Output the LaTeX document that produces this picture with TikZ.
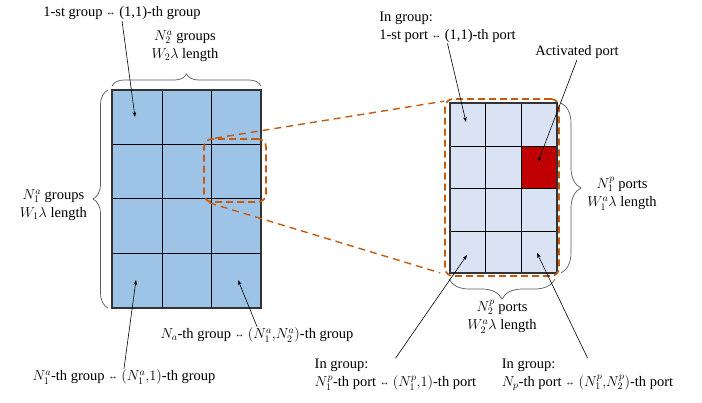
\documentclass[tikz,border=0pt]{standalone}
\usepackage{fontspec}
\setmainfont{Liberation Serif}
\usetikzlibrary{decorations.pathreplacing,arrows.meta,calc}
\definecolor{gridA}{HTML}{9DC3E6}
\definecolor{gridB}{HTML}{DAE3F3}
\definecolor{actred}{HTML}{C00000}
\definecolor{zoomor}{HTML}{C55A11}
\definecolor{bracegray}{HTML}{595959}
\newcommand{\myarrowlr}{\raisebox{1.2pt}{\fontsize{9.5}{9.5}\selectfont ↔}}
\begin{document}
\begin{tikzpicture}[x=1pt,y=-1pt,
  lbl/.style={font=\fontsize{14.5}{18}\selectfont, inner sep=1pt, align=left},
  gridline/.style={line width=0.9pt, black},
  gridborder/.style={line width=1.2pt, black!80},
  bracestyle/.style={line width=0.7pt, bracegray, decorate},
  zoombox/.style={draw=zoomor, line width=1.7pt, dash pattern=on 7pt off 4pt, rounded corners=8pt, rectangle, inner sep=0pt},
  zoomline/.style={draw=zoomor, line width=1.4pt, dash pattern=on 7pt off 5pt},
  arr/.style={-{Stealth[length=5pt,width=3.6pt]}, line width=0.6pt}]
\useasboundingbox (0,0) rectangle (702,402);

% left grid
\fill[gridA] (112,90) rectangle (261,308);
\foreach \x in {162,211} \draw[gridline] (\x,90) -- (\x,308);
\foreach \y in {144,198,253} \draw[gridline] (112,\y) -- (261,\y);
\draw[gridborder] (112,90) rectangle (261,308);

% right grid
\fill[gridB] (450,103) rectangle (557,273);
\fill[actred] (521,146) rectangle (557,188);
\foreach \x in {485,521} \draw[gridline] (\x,103) -- (\x,273);
\foreach \y in {146,188,231} \draw[gridline] (450,\y) -- (557,\y);
\draw[gridborder] (450,103) rectangle (557,273);

% braces
\draw[bracestyle, decoration={brace,amplitude=12pt}] (112,86) -- (261,86);
\draw[bracestyle, decoration={brace,amplitude=15pt}] (108,308) -- (108,90);
\draw[bracestyle, decoration={brace,amplitude=20pt}] (561,103) -- (561,273);
\draw[bracestyle, decoration={brace,amplitude=20pt}] (555,279) -- (449,279);

% zoom boxes
\node[zoombox, minimum width=62pt, minimum height=63pt] (zl) at (235,170.5) {};
\node[zoombox, minimum width=114pt, minimum height=177pt] (zr) at (502,187.5) {};
\draw[zoomline] ($(zl.north west)+(12,0)$) -- ($(zr.north west)+(0,3)$);
\draw[zoomline] ($(zl.south west)+(6,0)$) -- ($(zr.south west)+(-4,-4)$);

% labels
\node[lbl] (g11) at (122,13) {1-st group \myarrowlr{} (1,1)-th group};
\node[lbl, align=center] (topl) at (185,46) {$N_2^a$ groups\\$W_2\lambda$ length};
\node[lbl, align=center, anchor=east] (lftl) at (88,205) {$N_1^a$ groups\\$W_1\lambda$ length};
\node[lbl] (gNa) at (257,335) {$N_a$-th group \myarrowlr{} $(N_1^a{,}N_2^a)$-th group};
\node[lbl] (gN1) at (124,377) {$N_1^a$-th group \myarrowlr{} $(N_1^a{,}1)$-th group};
\node[lbl] (p11) at (447.5,27) {In group:\\1-st port \myarrowlr{} (1,1)-th port};
\node[lbl] (act) at (577,52) {Activated port};
\node[lbl, align=center] (rtl) at (622,194) {$N_1^p$ ports\\$W_1^a\lambda$ length};
\node[lbl, align=center] (btl) at (502,317) {$N_2^p$ ports\\$W_2^a\lambda$ length};
\node[lbl] (pN1) at (395.5,375) {In group:\\$N_1^p$-th port \myarrowlr{} $(N_1^p{,}1)$-th port};
\node[lbl] (pNp) at (587.5,375) {In group:\\$N_p$-th port \myarrowlr{} $(N_1^p{,}N_2^p)$-th port};

% arrow tips
\coordinate (t1) at (135,117);
\coordinate (t2) at (136,280);
\coordinate (t3) at (238,280);
\coordinate (t4) at (466,122);
\coordinate (t5) at (538,162);
\coordinate (t6) at (467,255);
\coordinate (t7) at (537,253);

\draw[arr] (g11.south) -- (t1);
\draw[arr] (gN1.north) -- (t2);
\draw[arr] (gNa.north) -- (t3);
\draw[arr] (p11.south) -- (t4);
\draw[arr] (act.south) -- (t5);
\draw[arr] (pN1.north) -- (t6);
\draw[arr] (pNp.north) -- (t7);
\end{tikzpicture}
\end{document}
